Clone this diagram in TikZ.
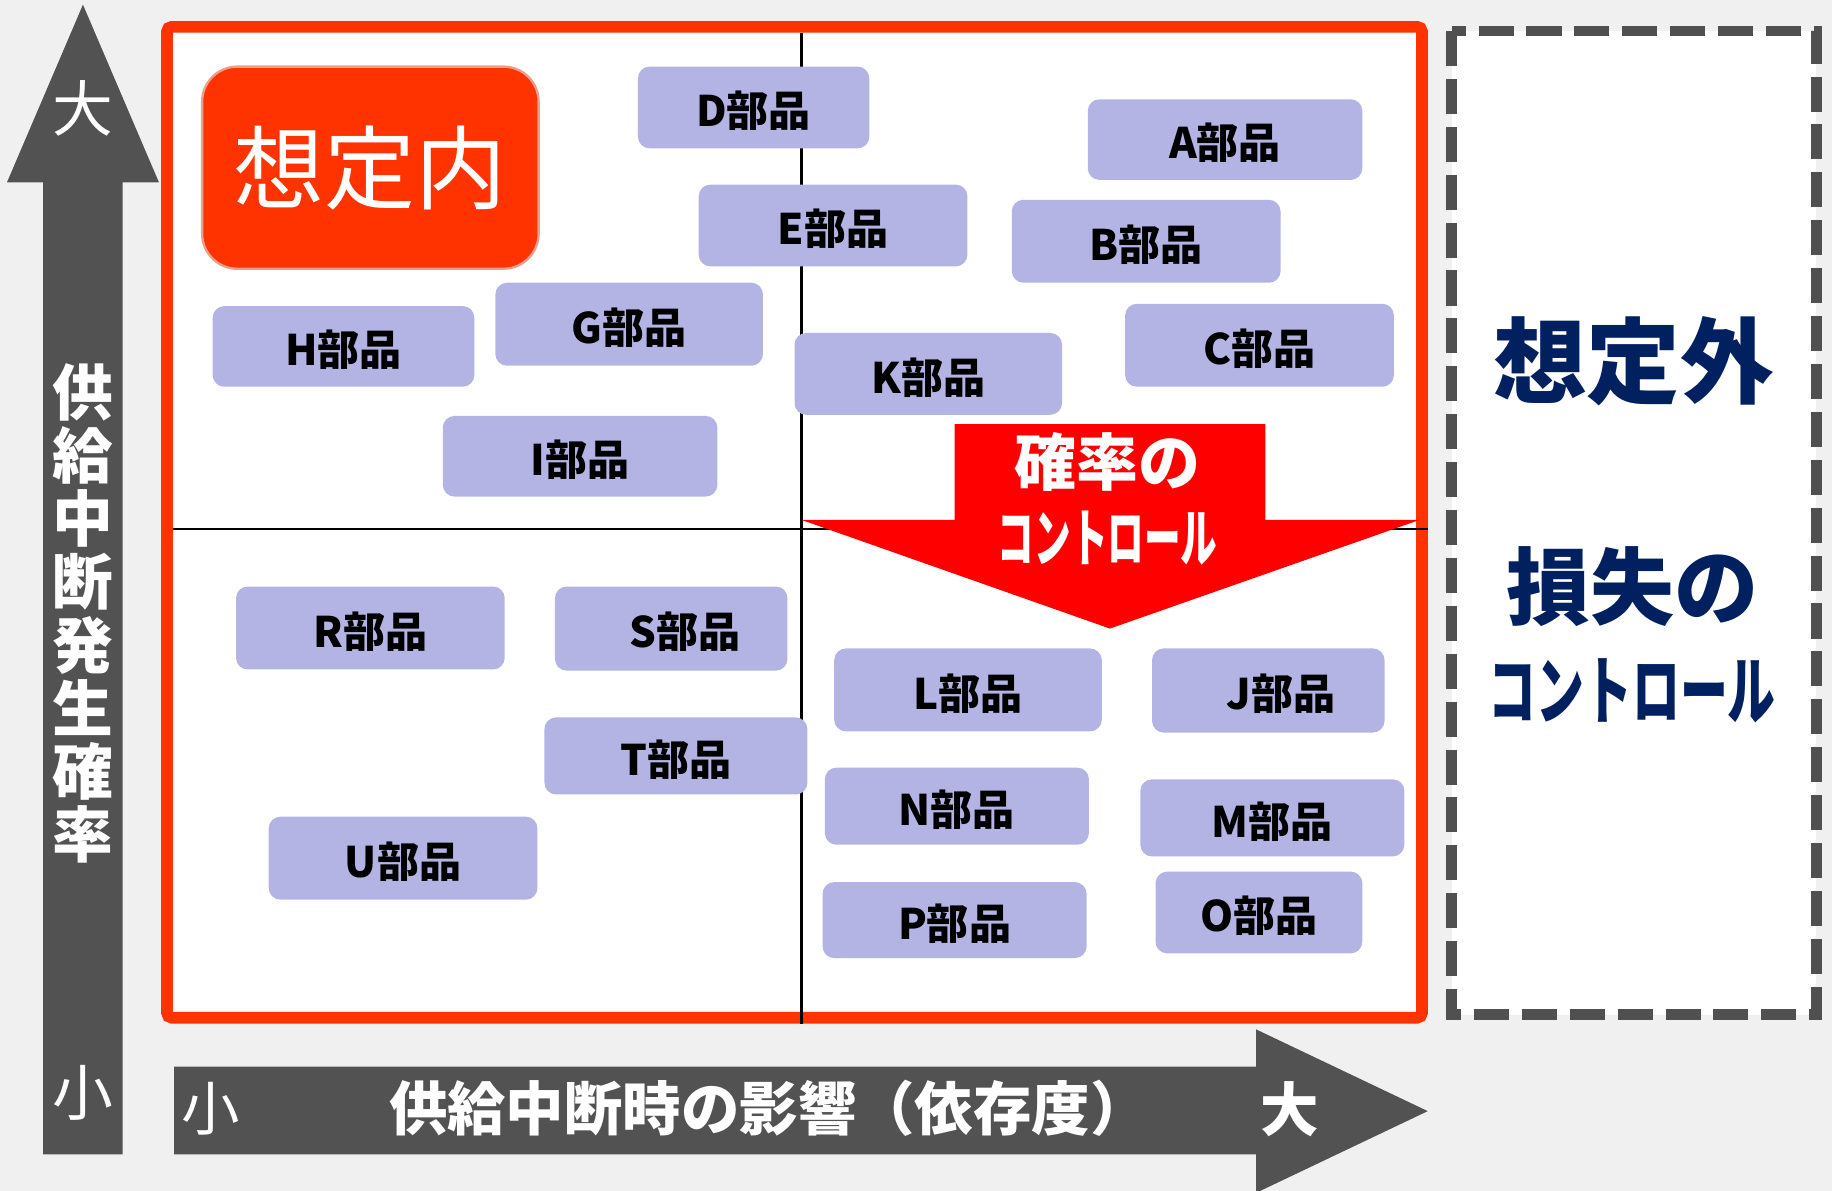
\documentclass[tikz,border=0pt]{standalone}
\usepackage{fontspec}
\usepackage{graphicx}
\newfontfamily\cjk{Noto Sans CJK JP}
\definecolor{bgc}{HTML}{F0F0F0}
\definecolor{axisgray}{HTML}{525252}
\definecolor{framered}{HTML}{FF3300}
\definecolor{partc}{HTML}{B4B4E4}
\definecolor{navy}{HTML}{002060}
\definecolor{arrowred}{HTML}{FF0000}
\definecolor{dashgray}{HTML}{505050}
\definecolor{salmon}{HTML}{E9A08C}
\begin{document}
\begin{tikzpicture}[x=1pt,y=-1pt,
  part/.style={fill=partc, rounded corners=10pt, inner sep=0pt, text=black,
    text height=33pt, text depth=0pt,
    font=\cjk\bfseries\fontsize{36}{40}\selectfont},
  axislbl/.style={text=white, inner sep=0pt, font=\cjk\fontsize{52}{54}\selectfont},
  quadline/.style={black, line width=2pt}]
\fill[bgc] (0,0) rectangle (1568,1019);
\useasboundingbox (0,0) rectangle (1568,1019);

% axes arrows
\fill[axisgray] (37,988) -- (37,156) -- (6,156) -- (71,4) -- (136,156) -- (105,156) -- (105,988) -- cycle;
\fill[axisgray] (149,913) -- (1075,913) -- (1075,881) -- (1222,951) -- (1075,1021) -- (1075,988) -- (149,988) -- cycle;

\node[axislbl] (ybig) at (71,93) {大};
\node[axislbl] (ysmall) at (71,935) {小};
\node[axislbl, font=\cjk\bfseries\fontsize{52}{54}\selectfont, align=center] (ylab) at (71,525)
  {供\\給\\中\\断\\発\\生\\確\\率};
\node[axislbl, font=\cjk\fontsize{50}{52}\selectfont] (xsmall) at (180,949) {小};
\node[axislbl, font=\cjk\bfseries\fontsize{50}{52}\selectfont] (xlab) at (658,949) {供給中断時の影響（依存度）};
\node[axislbl, font=\cjk\bfseries\fontsize{50}{52}\selectfont] (xbig) at (1104,949) {大};

% frames
\draw[framered, line width=10pt, fill=white, rounded corners=4pt] (143,23) rectangle (1217,871);
\draw[dashgray, line width=9pt, dash pattern=on 30pt off 11pt, fill=white] (1242.5,26.5) rectangle (1554.5,868.5);

% quadrant lines
\coordinate (vt) at (686,28);
\coordinate (vb) at (686,876);
\coordinate (hl) at (148,453);
\coordinate (hr) at (1222,453);
\draw[quadline] (vt) -- (vb);
\draw[quadline] (hl) -- (hr);

% expected box
\node[fill=framered, draw=salmon, line width=2pt, rounded corners=30pt, inner sep=0pt,
  minimum width=288pt, minimum height=173pt, text=white,
  font=\cjk\fontsize{78}{80}\selectfont] (inside) at (317,143.5) {想定内};

% parts
\node[part, minimum width=198pt, minimum height=70pt] (D) at (645,92) {D部品};
\node[part, minimum width=235pt, minimum height=69pt] (A) at (1048.5,119.5) {A部品};
\node[part, minimum width=230pt, minimum height=70pt] (E) at (713,193) {E部品};
\node[part, minimum width=230pt, minimum height=71pt] (B) at (981,206.5) {B部品};
\node[part, minimum width=224pt, minimum height=69pt] (H) at (294,296.5) {H部品};
\node[part, minimum width=229pt, minimum height=71pt] (G) at (538.5,277.5) {G部品};
\node[part, minimum width=230pt, minimum height=71pt] (C) at (1078,295.5) {C部品};
\node[part, minimum width=229pt, minimum height=70pt] (K) at (794.5,320) {K部品};
\node[part, minimum width=235pt, minimum height=69pt] (I) at (496.5,390.5) {I部品};
\node[part, minimum width=230pt, minimum height=71pt] (R) at (317,537.5) {R部品};
\node[part, minimum width=199pt, minimum height=72pt] (S) at (574.5,538) {\kern24pt S部品};
\node[part, minimum width=229pt, minimum height=71pt] (L) at (828.5,590.5) {L部品};
\node[part, minimum width=199pt, minimum height=72pt] (J) at (1085.5,591) {\kern22pt J部品};
\node[part, minimum width=225pt, minimum height=66pt] (T) at (578.5,647) {T部品};
\node[part, minimum width=226pt, minimum height=66pt] (N) at (819,690) {N部品};
\node[part, minimum width=226pt, minimum height=66pt] (M) at (1089,700) {M部品};
\node[part, minimum width=230pt, minimum height=71pt] (U) at (345,734.5) {U部品};
\node[part, minimum width=226pt, minimum height=65pt] (P) at (817,787.5) {P部品};
\node[part, minimum width=177pt, minimum height=70pt] (O) at (1077.5,781) {O部品};

% probability control arrow
\fill[arrowred] (817,363) -- (1083,363) -- (1083,445) -- (1215,445) -- (950,538) -- (686,445) -- (817,445) -- cycle;
\node[text=white, inner sep=0pt, font=\cjk\bfseries\fontsize{53}{56}\selectfont] (prob) at (948,395) {確率の};
\node[text=white, inner sep=0pt, font=\cjk\bfseries\fontsize{54}{56}\selectfont] (probctl) at (948,461) {\scalebox{0.58}[1]{コントロール}};

% unexpected panel
\node[text=navy, inner sep=0pt, font=\cjk\bfseries\fontsize{80}{82}\selectfont] (outside) at (1398,309) {想定外};
\node[text=navy, inner sep=0pt, font=\cjk\bfseries\fontsize{72}{74}\selectfont] (loss) at (1397,502) {損失の};
\node[text=navy, inner sep=0pt, font=\cjk\bfseries\fontsize{64}{66}\selectfont] (lossctl) at (1397,591) {\scalebox{0.64}[1]{コントロール}};
\end{tikzpicture}
\end{document}
